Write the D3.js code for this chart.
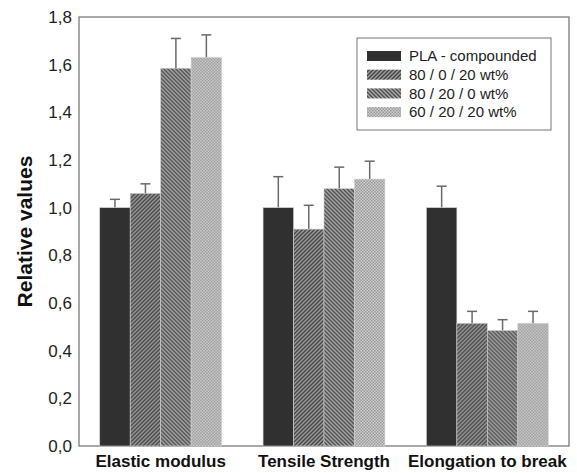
<!DOCTYPE html>
<html>
<head>
<meta charset="utf-8">
<script src="https://cdn.jsdelivr.net/npm/d3@7"></script>
<style>
  html, body { margin: 0; padding: 0; background: #fff; }
  svg { display: block; font-family: "Liberation Sans", Arial, sans-serif; }
</style>
</head>
<body>
<div id="chart"></div>
<script>
// Mechanical properties relative to compounded PLA
const categories = ["Elastic modulus", "Tensile Strength", "Elongation to break"];
const seriesNames = ["PLA - compounded", "80 / 0 / 20 wt%", "80 / 20 / 0 wt%", "60 / 20 / 20 wt%"];
const pla      = [1.00, 1.00, 1.00];
const s80_0_20 = [1.06, 0.91, 0.515];
const s80_20_0 = [1.585, 1.08, 0.485];
const s60_20_20 = [1.63, 1.12, 0.515];
const errPla      = [0.035, 0.13, 0.09];
const err80_0_20  = [0.04, 0.10, 0.05];
const err80_20_0  = [0.125, 0.09, 0.045];
const err60_20_20 = [0.095, 0.075, 0.05];
const yTicks = [0, 0.2, 0.4, 0.6, 0.8, 1.0, 1.2, 1.4, 1.6, 1.8];

const seriesValues = [pla, s80_0_20, s80_20_0, s60_20_20];
const seriesErrors = [errPla, err80_0_20, err80_20_0, err60_20_20];

const W = 577, H = 473;
const margin = {left: 79, right: 8, top: 17, bottom: 27};
const innerW = W - margin.left - margin.right;
const innerH = H - margin.top - margin.bottom;

const svg = d3.select("#chart").append("svg").attr("width", W).attr("height", H);
const defs = svg.append("defs");

// Fill patterns for the four series
function hatch(id, dir, bg, fg) {
  const p = defs.append("pattern").attr("id", id)
    .attr("patternUnits", "userSpaceOnUse").attr("width", 4).attr("height", 4);
  p.append("rect").attr("width", 4).attr("height", 4).attr("fill", bg);
  const d = dir > 0 ? "M-1,1 l2,-2 M0,4 l4,-4 M3,5 l2,-2" : "M-1,3 l2,2 M0,0 l4,4 M3,-1 l2,2";
  p.append("path").attr("d", d).attr("stroke", fg).attr("stroke-width", 1.5);
}
hatch("p2", 1, "#a0a0a0", "#444444");
hatch("p3", -1, "#aaaaaa", "#505050");
const chk = defs.append("pattern").attr("id", "p4")
  .attr("patternUnits", "userSpaceOnUse").attr("width", 3).attr("height", 3);
chk.append("rect").attr("width", 3).attr("height", 3).attr("fill", "#d2d2d2");
chk.append("rect").attr("width", 1.5).attr("height", 1.5).attr("fill", "#959595");
chk.append("rect").attr("x", 1.5).attr("y", 1.5).attr("width", 1.5).attr("height", 1.5).attr("fill", "#959595");
const fills = ["#303030", "url(#p2)", "url(#p3)", "url(#p4)"];

const g = svg.append("g").attr("transform", `translate(${margin.left},${margin.top})`);

const x0 = d3.scaleBand().domain(categories).range([0, innerW])
  .paddingInner(0.254).paddingOuter(0.127);
const x1 = d3.scaleBand().domain(d3.range(seriesNames.length)).range([0, x0.bandwidth()]);
const y = d3.scaleLinear().domain([0, 1.8]).range([innerH, 0]);

// Frame
g.append("rect").attr("width", innerW).attr("height", innerH)
  .attr("fill", "none").attr("stroke", "#6e6e6e").attr("stroke-width", 1.2);

// Y axis labels (no tick marks)
const yAxis = d3.axisLeft(y).tickValues(yTicks).tickSize(0).tickPadding(7)
  .tickFormat(d => d3.format(".1f")(d).replace(".", ","));
const ya = g.append("g").call(yAxis);
ya.select(".domain").remove();
ya.selectAll("text").attr("font-size", 17).attr("fill", "#222")
  .attr("font-family", "Liberation Sans, Arial, sans-serif");

// X axis labels
const xAxis = d3.axisBottom(x0).tickSize(0).tickPadding(9);
const xa = g.append("g").attr("transform", `translate(0,${innerH})`).call(xAxis);
xa.select(".domain").remove();
xa.selectAll("text").attr("font-size", 17).attr("font-weight", "bold").attr("fill", "#111")
  .attr("font-family", "Liberation Sans, Arial, sans-serif");

// Y title
svg.append("text")
  .attr("transform", `translate(32,${margin.top + innerH / 2}) rotate(-90)`)
  .attr("text-anchor", "middle").attr("font-size", 21).attr("font-weight", "bold")
  .attr("fill", "#111").text("Relative values");

// Bars and error bars
const groups = g.selectAll(".grp").data(categories).join("g")
  .attr("transform", c => `translate(${x0(c)},0)`);

groups.each(function(c, ci) {
  const sel = d3.select(this);
  seriesValues.forEach((vals, si) => {
    const v = vals[ci], e = seriesErrors[si][ci];
    const bx = x1(si), bw = x1.bandwidth();
    const cx = bx + bw / 2;
    sel.append("line").attr("x1", cx).attr("x2", cx)
      .attr("y1", y(v)).attr("y2", y(v + e))
      .attr("stroke", "#6a6a6a").attr("stroke-width", 1.5);
    sel.append("line").attr("x1", cx - 5).attr("x2", cx + 5)
      .attr("y1", y(v + e)).attr("y2", y(v + e))
      .attr("stroke", "#6a6a6a").attr("stroke-width", 1.5);
    sel.append("rect").attr("x", bx).attr("width", bw)
      .attr("y", y(v)).attr("height", y(0) - y(v))
      .attr("fill", fills[si]).attr("stroke", "#d0d0d0").attr("stroke-width", 0.6);
  });
});

// Legend
const lg = svg.append("g").attr("transform", "translate(357,38)");
lg.append("rect").attr("width", 194).attr("height", 92)
  .attr("fill", "#fff").attr("stroke", "#777").attr("stroke-width", 1);
seriesNames.forEach((name, i) => {
  const ry = 18 + i * 18.7;
  lg.append("rect").attr("x", 10).attr("y", ry - 5).attr("width", 34).attr("height", 10)
    .attr("fill", fills[i]);
  lg.append("text").attr("x", 52).attr("y", ry).attr("dy", "0.35em")
    .attr("font-size", 15).attr("fill", "#222").text(name);
});
</script>
</body>
</html>
